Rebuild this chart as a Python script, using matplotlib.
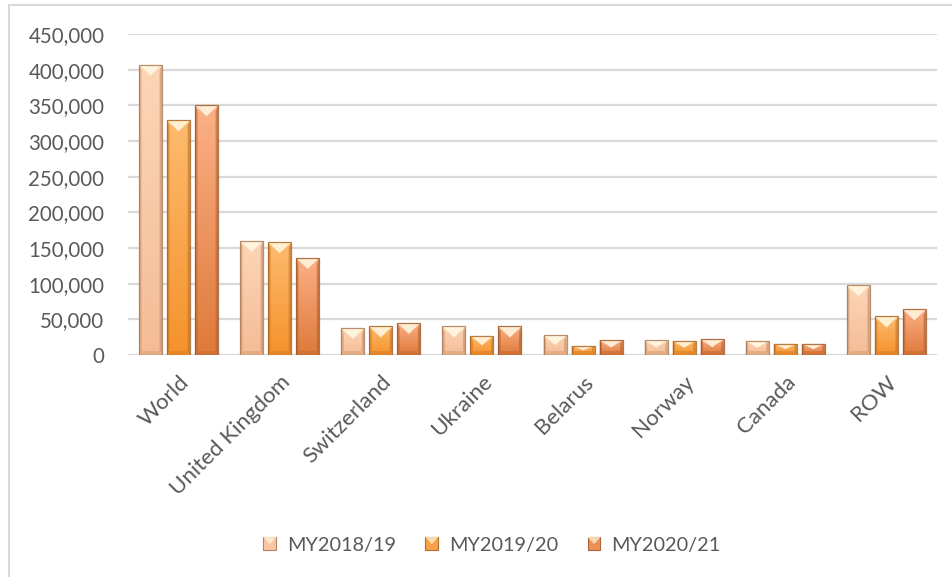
import numpy as np
import matplotlib.pyplot as plt
from matplotlib.patches import Polygon, Patch
from matplotlib.lines import Line2D
from matplotlib.colors import to_rgb
from matplotlib.legend_handler import HandlerPatch
from matplotlib.ticker import FuncFormatter

plt.rcParams['font.family'] = ['Lato', 'DejaVu Sans']

# production by region, three marketing years
regions = ["World", "United Kingdom", "Switzerland", "Ukraine",
           "Belarus", "Norway", "Canada", "ROW"]
years = ["MY2018/19", "MY2019/20", "MY2020/21"]
my2018 = [407000, 160000, 38000, 40000, 28000, 21000, 20000, 98000]
my2019 = [329000, 158000, 40000, 27000, 13000, 20000, 16000, 54000]
my2020 = [350000, 136000, 45000, 40000, 21000, 22000, 16000, 64000]

# (top, bottom) gradient colours per series
shades = [("#FDD6B6", "#F4BC96"), ("#FDBB6E", "#F5922C"), ("#FCB087", "#DE7A3A")]
legend_colors = ["#F8C6A2", "#F7A048", "#EC9058"]

text_color = "#595959"
grid_color = "#D9D9D9"

W, H = 953, 577
fig = plt.figure(figsize=(W / 100, H / 100), dpi=100)
ax = fig.add_axes([128 / W, 1 - 355 / H, (937 - 128) / W, (355 - 34) / H])

x = np.arange(len(regions))
bw = 0.228
pitch = 0.277
series = [my2018, my2019, my2020]

ax.set_xlim(-0.5, len(regions) - 0.5)
ax.set_ylim(0, 450000)
ax.set_autoscale_on(False)

# pixel -> data conversion for the bevel shapes
px_x = len(regions) / (937 - 128)
px_y = 450000 / (355 - 34)


def mix(c, other, t):
    a = np.array(to_rgb(c))
    b = np.array(to_rgb(other))
    return tuple(a * (1 - t) + b * t)


def bevel(ax, x0, w, h, top_c, bot_c, z=3):
    x1 = x0 + w
    xc = x0 + w / 2
    edge = mix(bot_c, "#5a3010", 0.5)
    th = min(11 * px_y, h / 2)       # top triangle depth
    bh = min(4 * px_y, h / 2)        # bottom bevel depth
    sw = 2.5 * px_x                  # side strip width
    rect = Polygon([(x0, 0), (x0, h), (x1, h), (x1, 0)], closed=True,
                   facecolor="none", edgecolor="none")
    ax.add_patch(rect)
    # vertical gradient body, light at top
    grad = np.linspace(0, 1, 64)[:, None]
    rgb = np.array(to_rgb(top_c)) * (1 - grad[..., None]) + \
        np.array(to_rgb(bot_c)) * grad[..., None]
    im = ax.imshow(rgb, extent=(x0, x1, 0, h), aspect="auto",
                   interpolation="bilinear", zorder=z)
    im.set_clip_path(rect)
    # side shading
    ax.add_patch(Polygon([(x0, 0), (x0, h), (x0 + sw, h - th * 0.5), (x0 + sw, bh)],
                         closed=True, facecolor=mix(bot_c, "#6a3818", 0.3),
                         alpha=0.55, edgecolor="none", zorder=z + 0.1))
    ax.add_patch(Polygon([(x1, 0), (x1, h), (x1 - sw, h - th * 0.5), (x1 - sw, bh)],
                         closed=True, facecolor=mix(bot_c, "#6a3818", 0.35),
                         alpha=0.6, edgecolor="none", zorder=z + 0.1))
    # bottom bevel
    ax.add_patch(Polygon([(x0, 0), (x1, 0), (x1 - sw, bh), (x0 + sw, bh)],
                         closed=True, facecolor=mix(bot_c, "#6a3818", 0.2),
                         alpha=0.6, edgecolor="none", zorder=z + 0.1))
    # top highlight triangle
    ax.add_patch(Polygon([(x0, h), (x1, h), (xc, h - th)], closed=True,
                         facecolor=mix(top_c, "#FFFBE8", 0.8),
                         edgecolor="none", zorder=z + 0.2))
    # outline
    ax.add_patch(Polygon([(x0, 0), (x0, h), (x1, h), (x1, 0)], closed=True,
                         facecolor="none", edgecolor=edge, lw=0.9, alpha=0.8,
                         zorder=z + 0.3))


for i, (vals, (tc, bc)) in enumerate(zip(series, shades)):
    offs = (i - 1) * pitch
    for xi, v in zip(x, vals):
        bevel(ax, xi + offs - bw / 2, bw, v, tc, bc)

ax.set_yticks(np.arange(0, 450001, 50000))
ax.yaxis.set_major_formatter(FuncFormatter(lambda v, p: f"{int(v):,}"))
ax.yaxis.grid(True, color=grid_color, lw=1.6)
ax.set_axisbelow(True)
for s in ax.spines.values():
    s.set_visible(False)
ax.tick_params(axis="y", length=0, pad=17, labelsize=14.8, labelcolor=text_color)
ax.tick_params(axis="x", length=0, pad=12, labelsize=16, labelcolor=text_color)
ax.set_xticks(x)
ax.set_xticklabels(regions, rotation=45, ha="right", va="top",
                   rotation_mode="anchor")


class BevelHandler(HandlerPatch):
    def create_artists(self, legend, orig_handle, xdescent, ydescent,
                       width, height, fontsize, trans):
        c = orig_handle.get_facecolor()
        s = height
        x0 = xdescent + (width - s) / 2
        y0 = -ydescent
        base = Polygon([(x0, y0), (x0, y0 + s), (x0 + s, y0 + s), (x0 + s, y0)],
                       closed=True, facecolor=c,
                       edgecolor=mix(c, "#5a3010", 0.45), lw=0.8, transform=trans)
        tri = Polygon([(x0, y0 + s), (x0 + s, y0 + s), (x0 + s / 2, y0 + s * 0.45)],
                      closed=True, facecolor=mix(c, "#FFF6DC", 0.7),
                      edgecolor="none", transform=trans)
        return [base, tri]


handles = [Patch(facecolor=c) for c in legend_colors]
fig.legend(handles, years, loc="center", bbox_to_anchor=(492 / W, 1 - 545 / H),
           ncol=3, frameon=False, fontsize=14.3, labelcolor=text_color,
           handlelength=0.62, handleheight=0.62, handletextpad=0.55,
           columnspacing=1.5,
           handler_map={Patch: BevelHandler()})

# chart frame (top and left edges)
fig.add_artist(Line2D([9 / W, 9 / W], [0, 1 - 5 / H], color=grid_color, lw=1.5))
fig.add_artist(Line2D([9 / W, 1], [1 - 5 / H, 1 - 5 / H], color=grid_color, lw=1.5))

fig.savefig("out.png", dpi=100)
